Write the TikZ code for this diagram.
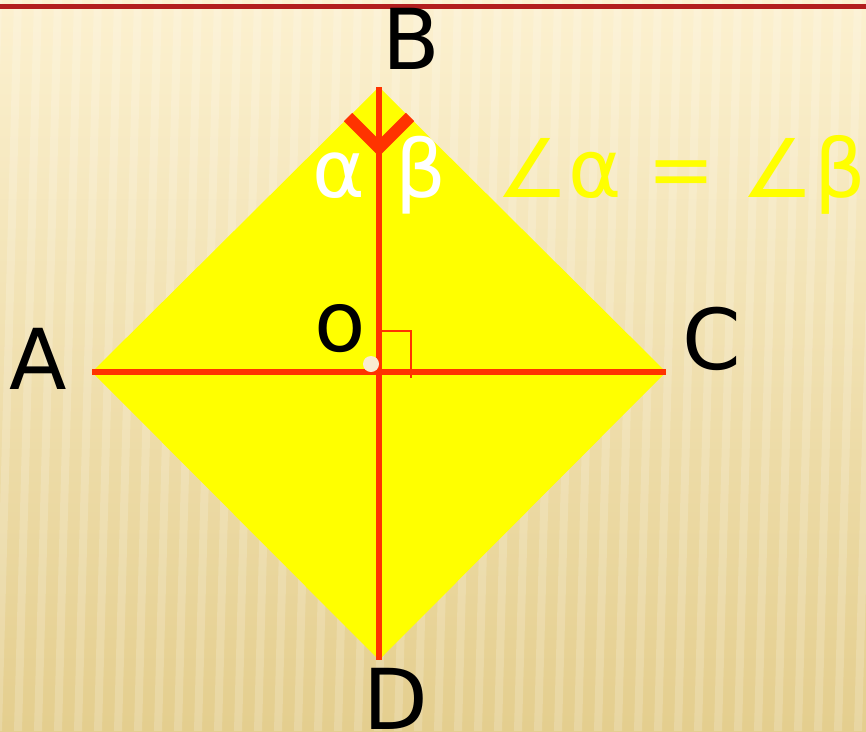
\documentclass[tikz,border=0pt]{standalone}
\usepackage{fontspec}
\setmainfont{DejaVu Sans}
\definecolor{bgtop}{RGB}{252,241,208}
\definecolor{bgbot}{RGB}{228,206,142}
\definecolor{redline}{RGB}{255,51,0}
\definecolor{darkred}{RGB}{178,30,30}
\definecolor{dotcol}{RGB}{250,236,208}
\definecolor{eqyellow}{RGB}{255,255,0}
\definecolor{rhomb}{RGB}{255,255,0}
\tikzset{
  lbl/.style={font=\fontsize{84}{84}\selectfont, text=black, inner sep=0pt, anchor=base},
  greek/.style={font=\fontsize{80}{80}\selectfont, text=white, inner sep=0pt, anchor=base},
  diag/.style={draw=redline, line width=5.5pt},
}
\begin{document}
\begin{tikzpicture}[x=1pt,y=-1pt]
\useasboundingbox (0,0) rectangle (866,731);
% background
\shade[top color=bgtop, bottom color=bgbot] (0,0) rectangle (866,731);
\foreach \i in {0,...,45} {
  \fill[white, opacity=0.18] ({\i*20-6},0) -- ({\i*20+2},0) -- ({\i*20-18},731) -- ({\i*20-26},731) -- cycle;
}
% top title rule
\draw[darkred, line width=5.5pt] (0,6.5) -- (866,6.5);
\draw[darkred, line width=2.5pt] (416,6) -- (416,13);
% vertices
\coordinate (vA) at (92,372);
\coordinate (vB) at (379,87);
\coordinate (vC) at (666,372);
\coordinate (vD) at (379,660);
% rhombus
\fill[rhomb] (vA) -- (vB) -- (vC) -- (vD) -- cycle;
% diagonals
\draw[diag] (vB) -- (vD);
\draw[diag] (vA) -- (vC);
% fold chevron
\coordinate (chL) at (348,117);
\coordinate (chM) at (379,148);
\coordinate (chR) at (410,117);
\draw[redline, line width=12pt, miter limit=10] (chL) -- (chM) -- (chR);
% right angle mark
\coordinate (raA) at (381,331);
\coordinate (raB) at (411,331);
\coordinate (raC) at (411,378);
\draw[redline, line width=1.6pt] (raA) -- (raB) -- (raC);
% center dot
\fill[dotcol] (371,364) circle (8);
% labels
\node[lbl] (labB) at (411,69) {B};
\node[lbl] (labA) at (38,389) {A};
\node[lbl] (labC) at (712,369) {C};
\node[lbl] (labD) at (396,729) {D};
\node[lbl] (labO) at (340,351) {o};
\node[greek] (alpha) at (339,197) {α};
\node[greek] (beta) at (421,197) {β};
\node[font=\fontsize{81}{81}\selectfont, text=eqyellow, inner sep=0pt, anchor=base west] (eq) at (496,197) {∠α = ∠β};
\end{tikzpicture}
\end{document}
